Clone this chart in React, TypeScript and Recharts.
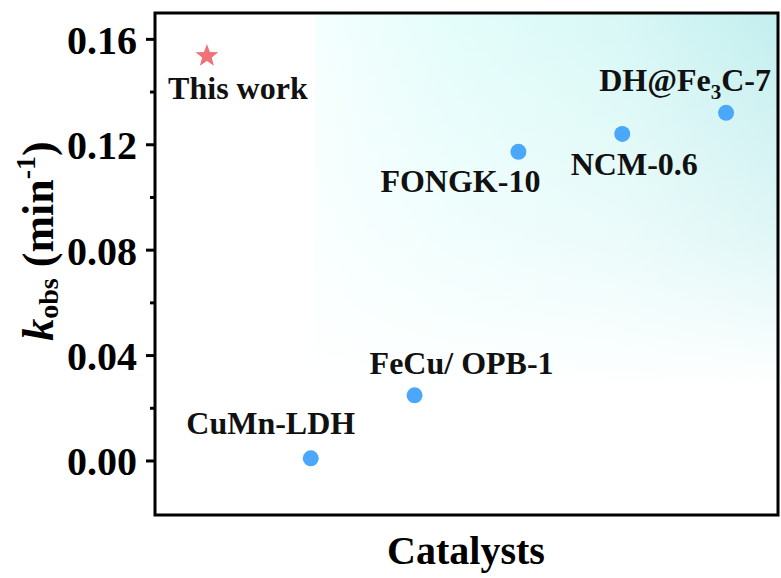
import React from "react";
import {
  ReferenceArea,
  Scatter,
  ScatterChart,
  XAxis,
  YAxis,
} from "recharts";

// rate constants
const catalysts = ["This work", "CuMn-LDH", "FeCu/ OPB-1", "FONGK-10", "NCM-0.6", "DH@Fe3C-7"];
const kobs = [0.1537, 0.001, 0.0249, 0.1173, 0.1241, 0.1321];
const yTicks = [0, 0.02, 0.04, 0.06, 0.08, 0.1, 0.12, 0.14, 0.16];

const W = 781;
const H = 578;
const PLOT_LEFT = 155;
const FONT = "'Liberation Serif', 'Times New Roman', serif";

// label placement relative to the marker (text centre, baseline)
const labelOffset: Record<string, [number, number]> = {
  "This work": [31, 43],
  "CuMn-LDH": [-40, -24],
  "FeCu/ OPB-1": [47, -21],
  "FONGK-10": [-58, 40],
  "NCM-0.6": [12, 41],
  "DH@Fe3C-7": [-41, -22],
};

const rows = catalysts.map((name, i) => ({ x: i + 1, y: kobs[i], name }));
const ours = rows.slice(0, 1);
const others = rows.slice(1);

function labelText(name: string) {
  if (name.includes("Fe3C")) {
    const [a, b] = name.split("Fe3C");
    return (
      <>
        {a}Fe
        <tspan fontSize={21} dy={8}>3</tspan>
        <tspan dy={-8}>C{b}</tspan>
      </>
    );
  }
  return name;
}

function PointLabel({ cx, cy, name }: { cx: number; cy: number; name: string }) {
  const off = labelOffset[name] || [0, 0];
  return (
    <text
      x={cx + off[0]}
      y={cy + off[1]}
      textAnchor="middle"
      fontFamily={FONT}
      fontWeight="bold"
      fontSize={32}
      fill="#111"
    >
      {labelText(name)}
    </text>
  );
}

const DotShape = (props: any) => {
  const { cx, cy, payload } = props;
  return (
    <g>
      <circle cx={cx} cy={cy} r={8} fill="#4aa7fa" />
      <PointLabel cx={cx} cy={cy} name={payload.name} />
    </g>
  );
};

const StarShape = (props: any) => {
  const { cx, cy, payload } = props;
  const pts: string[] = [];
  for (let i = 0; i < 10; i++) {
    const r = i % 2 === 0 ? 12 : 5;
    const a = -Math.PI / 2 + (i * Math.PI) / 5;
    pts.push(`${cx + r * Math.cos(a)},${cy + r * Math.sin(a)}`);
  }
  return (
    <g>
      <polygon points={pts.join(" ")} fill="#f07278" />
      <PointLabel cx={cx} cy={cy} name={payload.name} />
    </g>
  );
};

const YTick = (props: any) => {
  const { y, payload } = props;
  const v = payload.value;
  const major = Math.round(v * 100) % 4 === 0;
  return (
    <g>
      <line
        x1={PLOT_LEFT - (major ? 9 : 5)}
        x2={PLOT_LEFT}
        y1={y}
        y2={y}
        stroke="#000"
        strokeWidth={3}
      />
      {major && (
        <text
          x={137}
          y={y}
          dy="0.36em"
          textAnchor="end"
          fontFamily={FONT}
          fontWeight="bold"
          fontSize={40}
          fill="#000"
        >
          {v.toFixed(2)}
        </text>
      )}
    </g>
  );
};

export default function App() {
  return (
    <div style={{ position: "absolute", left: 0, top: 0, width: W, height: H, background: "#fff" }}>
      <ScatterChart
        width={W}
        height={H}
        margin={{ top: 13, right: 3, bottom: 63, left: 0 }}
      >
        <defs>
          <linearGradient id="bgGrad" x1="0" y1="0" x2="1" y2="0">
            <stop offset="0" stopColor="#f4fffe" />
            <stop offset="0.3" stopColor="#e3fdfb" />
            <stop offset="0.65" stopColor="#d8f8f6" />
            <stop offset="1" stopColor="#c3eeee" />
          </linearGradient>
          <linearGradient id="fadeGrad" x1="0" y1="0" x2="0" y2="1">
            <stop offset="0" stopColor="#fff" stopOpacity={0} />
            <stop offset="0.45" stopColor="#fff" stopOpacity={0.5} />
            <stop offset="0.75" stopColor="#fff" stopOpacity={1} />
            <stop offset="1" stopColor="#fff" stopOpacity={1} />
          </linearGradient>
        </defs>
        <XAxis type="number" dataKey="x" domain={[0.5, 6.5]} hide allowDataOverflow />
        <YAxis
          type="number"
          dataKey="y"
          domain={[-0.0205, 0.17]}
          ticks={yTicks}
          interval={0}
          width={PLOT_LEFT}
          axisLine={false}
          tickLine={false}
          tick={<YTick />}
          allowDataOverflow
        />
        <ReferenceArea
          x1={2.04}
          x2={6.5}
          y1={-0.0205}
          y2={0.17}
          fill="url(#bgGrad)"
          fillOpacity={1}
          stroke="none"
        />
        <ReferenceArea
          x1={2.04}
          x2={6.5}
          y1={-0.0205}
          y2={0.17}
          fill="url(#fadeGrad)"
          fillOpacity={1}
          stroke="none"
        />
        <ReferenceArea
          x1={0.5}
          x2={6.5}
          y1={-0.0205}
          y2={0.17}
          fill="none"
          stroke="#000"
          strokeWidth={3}
        />
        <Scatter data={others} shape={<DotShape />} isAnimationActive={false} />
        <Scatter data={ours} shape={<StarShape />} isAnimationActive={false} />
        <text
          x={466}
          y={564}
          textAnchor="middle"
          fontFamily={FONT}
          fontWeight="bold"
          fontSize={40}
          fill="#000"
        >
          Catalysts
        </text>
        <text
          transform="translate(53, 241) rotate(-90)"
          textAnchor="middle"
          fontFamily={FONT}
          fontWeight="bold"
          fontSize={44}
          fill="#000"
        >
          <tspan fontStyle="italic">k</tspan>
          <tspan fontSize={28} dy={5}>obs</tspan>
          <tspan dy={-5}> (min</tspan>
          <tspan fontSize={28} dy={-18}>-1</tspan>
          <tspan dy={18}>)</tspan>
        </text>
      </ScatterChart>
    </div>
  );
}
